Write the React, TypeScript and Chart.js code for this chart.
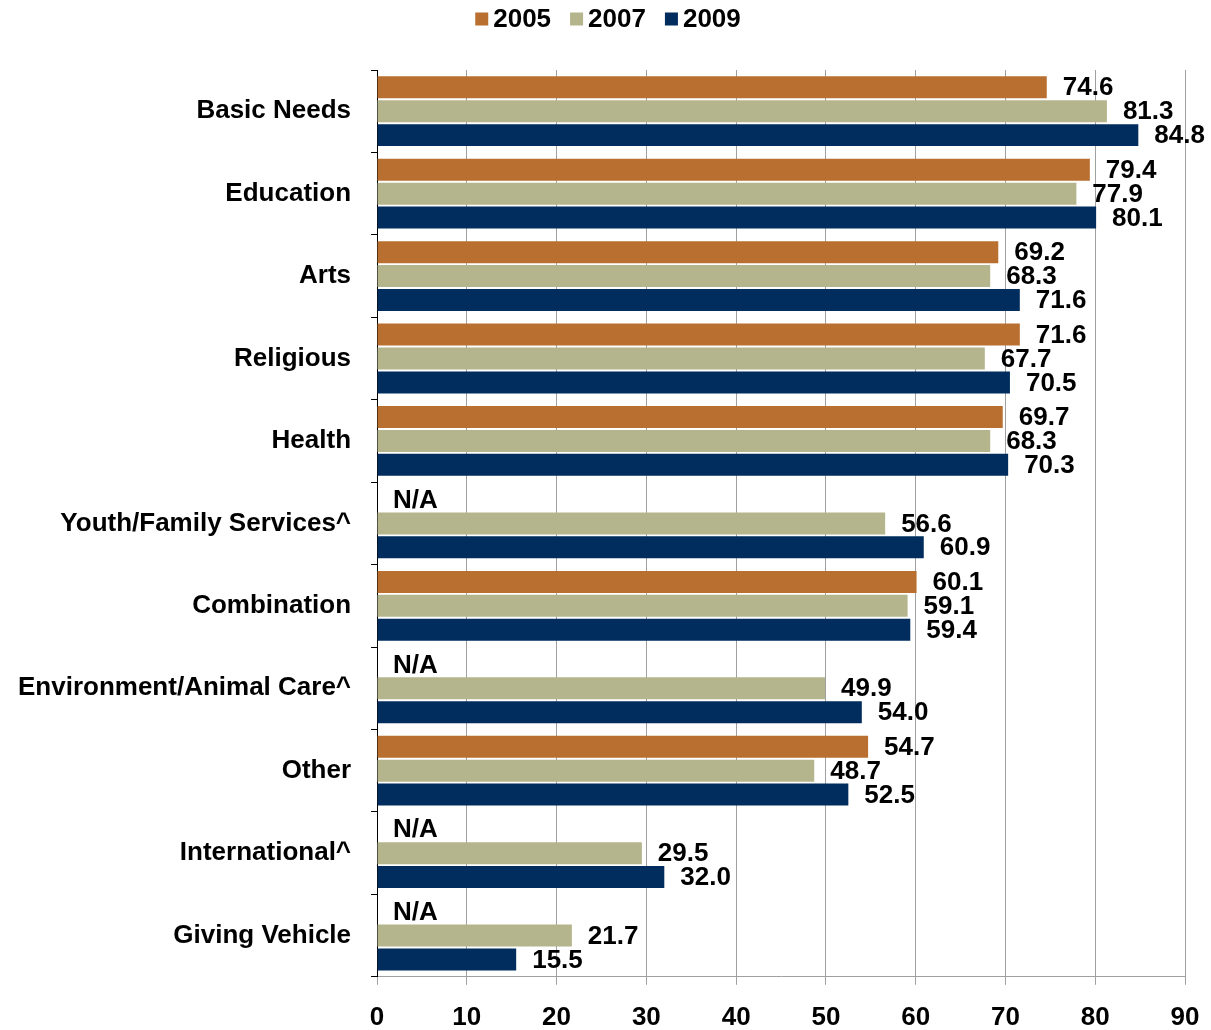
import React, { useEffect, useRef } from "react";
import { Chart, registerables } from "chart.js";

Chart.register(...registerables);

const categories = [
  "Basic Needs",
  "Education",
  "Arts",
  "Religious",
  "Health",
  "Youth/Family Services^",
  "Combination",
  "Environment/Animal Care^",
  "Other",
  "International^",
  "Giving Vehicle",
];
const values2005: (number | null)[] = [74.6, 79.4, 69.2, 71.6, 69.7, null, 60.1, null, 54.7, null, null];
const values2007: (number | null)[] = [81.3, 77.9, 68.3, 67.7, 68.3, 56.6, 59.1, 49.9, 48.7, 29.5, 21.7];
const values2009: (number | null)[] = [84.8, 80.1, 71.6, 70.5, 70.3, 60.9, 59.4, 54.0, 52.5, 32.0, 15.5];
const seriesLabels = ["2005", "2007", "2009"];
const seriesColors = ["#B96F30", "#B4B58D", "#002D5E"];
const xTicks = [0, 10, 20, 30, 40, 50, 60, 70, 80, 90];

const FONT = "'Liberation Sans', Arial, sans-serif";
const FS = 26;

const valueLabels = {
  id: "valueLabels",
  afterDatasetsDraw(chart: any) {
    const ctx = chart.ctx;
    const xScale = chart.scales.x;
    ctx.save();
    ctx.font = `bold ${FS}px ${FONT}`;
    ctx.fillStyle = "#000";
    ctx.textAlign = "left";
    ctx.textBaseline = "middle";
    chart.data.datasets.forEach((ds: any, di: number) => {
      const meta = chart.getDatasetMeta(di);
      meta.data.forEach((bar: any, i: number) => {
        const v = ds.data[i];
        const y = bar.y + 1;
        if (v === null || v === undefined) {
          ctx.fillText("N/A", xScale.getPixelForValue(0) + 16, y);
        } else {
          ctx.fillText(Number(v).toFixed(1), bar.x + 16, y);
        }
      });
    });
    ctx.restore();
  },
};

const customLegend = {
  id: "customLegend",
  afterDraw(chart: any) {
    const ctx = chart.ctx;
    ctx.save();
    ctx.font = `bold ${FS}px ${FONT}`;
    ctx.textBaseline = "middle";
    ctx.textAlign = "left";
    const box = 13;
    const gap = 5;
    const itemGap = 19;
    const widths = chart.data.datasets.map((ds: any) => ctx.measureText(ds.label).width);
    const total =
      widths.reduce((a: number, w: number) => a + box + gap + w, 0) + itemGap * (widths.length - 1);
    let x = 608 - total / 2;
    const cy = 19;
    chart.data.datasets.forEach((ds: any, i: number) => {
      ctx.fillStyle = ds.backgroundColor;
      ctx.fillRect(x, cy - box / 2, box, box);
      ctx.fillStyle = "#000";
      ctx.fillText(ds.label, x + box + gap, cy + 1);
      x += box + gap + widths[i] + itemGap;
    });
    ctx.restore();
  },
};

export default function App() {
  const ref = useRef<HTMLCanvasElement | null>(null);
  useEffect(() => {
    document.body.style.margin = "0";
    if (!ref.current) return;
    const data = [values2005, values2007, values2009];
    const chart = new Chart(ref.current, {
      type: "bar",
      data: {
        labels: categories,
        datasets: seriesLabels.map((l, i) => ({
          label: l,
          data: data[i],
          backgroundColor: seriesColors[i],
          borderWidth: 0,
          categoryPercentage: 0.87,
          barPercentage: 0.92,
        })),
      },
      options: {
        indexAxis: "y",
        animation: false,
        responsive: false,
        maintainAspectRatio: false,
        layout: { padding: { left: -2, right: 26, top: 70, bottom: -20 } },
        plugins: {
          tooltip: { enabled: false },
          legend: { display: false },
        },
        scales: {
          x: {
            min: 0,
            max: 90,
            afterBuildTicks(scale: any) {
              scale.ticks = xTicks.map((v) => ({ value: v }));
            },
            afterFit(scale: any) {
              scale.paddingRight = 0;
            },
            grid: {
              color: "#A0A0A0",
              lineWidth: 1,
              drawTicks: true,
              tickLength: 8,
            },
            border: { color: "#A0A0A0", width: 1 },
            ticks: {
              color: "#000",
              padding: 17,
              font: { family: FONT, size: FS, weight: "bold" },
            },
          },
          y: {
            grid: {
              offset: true,
              drawOnChartArea: false,
              drawTicks: true,
              tickLength: 6,
              color: "#000",
            },
            border: { color: "#000", width: 1 },
            ticks: {
              color: "#000",
              padding: 20,
              font: { family: FONT, size: FS, weight: "bold" },
            },
          },
        },
      },
      plugins: [valueLabels, customLegend],
    } as any);
    return () => chart.destroy();
  }, []);
  return (
    <div style={{ width: 1211, height: 1030 }}>
      <canvas ref={ref} width={1211} height={1030} style={{ display: "block" }} />
    </div>
  );
}
